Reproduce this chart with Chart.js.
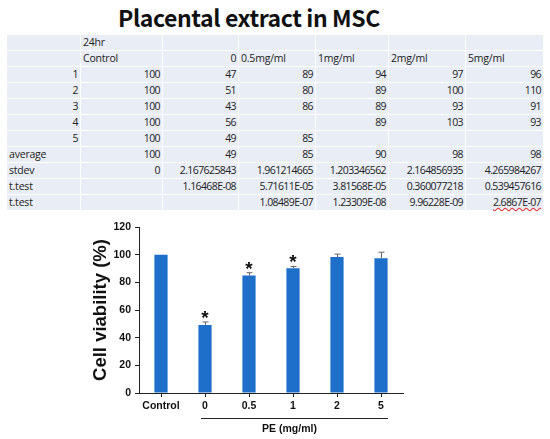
<!DOCTYPE html>
<html>
<head>
<meta charset="utf-8">
<script src="https://cdn.jsdelivr.net/npm/chart.js@4.4.1/dist/chart.umd.min.js"></script>
<style>
  html, body { margin: 0; padding: 0; background: #fff; }
  #page { position: relative; width: 550px; height: 439px; overflow: hidden; }
  #title {
    position: absolute; left: 0; top: 1px; width: 498px; text-align: center;
    font: bold 23px "Noto Sans CJK KR", "Open Sans", sans-serif; line-height: 32px;
    letter-spacing: -0.4px; color: #111;
  }
  #sheet {
    position: absolute; left: 6px; top: 34px; width: 537px;
    border-collapse: collapse; table-layout: fixed;
    font: 10.5px "Open Sans", sans-serif; color: #222; letter-spacing: -0.2px;
  }
  #sheet td {
    background: #e9edf5; border: 1px solid #fff; height: 15px; line-height: 15px;
    padding: 0 2px; white-space: nowrap; overflow: visible;
  }
  #sheet td.r { text-align: right; letter-spacing: -0.6px; }
  .wavy { text-decoration: underline wavy #e03030; }
  #chartBox { position: absolute; left: 0; top: 215px; width: 550px; height: 224px; }
</style>
</head>
<body>
<div id="page">
  <div id="title">Placental extract in MSC</div>
  <table id="sheet">
    <colgroup>
      <col style="width:74px"><col style="width:82px"><col style="width:76px"><col style="width:77px">
      <col style="width:73px"><col style="width:77px"><col style="width:78px">
    </colgroup>
    <tbody id="sheetBody"></tbody>
  </table>
  <div id="chartBox"><canvas id="viability" width="550" height="224"></canvas></div>
</div>
<script>
// spreadsheet values
const groupHeaders = ['Control', '0', '0.5mg/ml', '1mg/ml', '2mg/ml', '5mg/ml'];
const replicateIds = ['1', '2', '3', '4', '5'];
const replicates = [
  [100, 47, 89, 94, 97, 96],
  [100, 51, 80, 89, 100, 110],
  [100, 43, 86, 89, 93, 91],
  [100, 56, null, 89, 103, 93],
  [100, 49, 85, null, null, null]
];
const averages = [100, 49, 85, 90, 98, 98];
const stdevs = ['0', '2.167625843', '1.961214665', '1.203346562', '2.164856935', '4.265984267'];
const ttestA = ['', '1.16468E-08', '5.71611E-05', '3.81568E-05', '0.360077218', '0.539457616'];
const ttestB = ['', '', '1.08489E-07', '1.23309E-08', '9.96228E-09', '2.6867E-07'];

// chart values
const categories = ['Control', '0', '0.5', '1', '2', '5'];
const viability = [100, 49.2, 85, 90.25, 98.25, 97.5];
const errors = [0, 2.17, 1.96, 1.2, 2.16, 4.27];
const stars = ['', '*', '*', '*', '', ''];

function cell(text, right, cls) {
  const td = document.createElement('td');
  if (right) td.className = 'r';
  if (cls) {
    const span = document.createElement('span');
    span.className = cls;
    span.textContent = text;
    td.appendChild(span);
  } else {
    td.textContent = text;
  }
  return td;
}

function addRow(cells) {
  const tr = document.createElement('tr');
  cells.forEach(c => tr.appendChild(c));
  document.getElementById('sheetBody').appendChild(tr);
}

addRow([cell(''), cell('24hr'), cell(''), cell(''), cell(''), cell(''), cell('')]);
addRow([cell('')].concat(groupHeaders.map((h, i) => cell(h, i === 1))));
replicates.forEach((row, r) => {
  addRow([cell(replicateIds[r], true)].concat(row.map(v => cell(v === null ? '' : String(v), true))));
});
addRow([cell('average')].concat(averages.map(v => cell(String(v), true))));
addRow([cell('stdev')].concat(stdevs.map(v => cell(v, true))));
addRow([cell('t.test')].concat(ttestA.map(v => cell(v, true))));
addRow([cell('t.test')].concat(ttestB.map((v, i) => cell(v, true, i === 5 ? 'wavy' : null))));

const tickFont = { family: 'Liberation Sans', weight: 'bold', size: 10.5 };

const extras = {
  id: 'extras',
  afterDatasetsDraw(chart) {
    const { ctx, chartArea } = chart;
    const x = chart.scales.x, y = chart.scales.y;
    ctx.save();
    // error bars (upper half only)
    ctx.strokeStyle = '#666';
    ctx.lineWidth = 1;
    viability.forEach((v, i) => {
      if (!errors[i]) return;
      const cx = Math.round(x.getPixelForValue(i)) + 0.5;
      const top = y.getPixelForValue(v + errors[i]);
      ctx.beginPath();
      ctx.moveTo(cx, y.getPixelForValue(v));
      ctx.lineTo(cx, top);
      ctx.moveTo(cx - 3, top);
      ctx.lineTo(cx + 3, top);
      ctx.stroke();
    });
    // significance marks
    ctx.fillStyle = '#111';
    ctx.font = 'bold 19px "Liberation Sans"';
    ctx.textAlign = 'center';
    ctx.textBaseline = 'alphabetic';
    stars.forEach((s, i) => {
      if (!s) return;
      const top = y.getPixelForValue(viability[i] + errors[i]);
      ctx.fillText(s, x.getPixelForValue(i), top + 2);
    });
    // PE group bracket
    const x0 = x.getPixelForValue(1) - 4;
    const x1 = x.getPixelForValue(5) + 7;
    const ly = chartArea.bottom + 25.5;
    ctx.strokeStyle = '#222';
    ctx.beginPath();
    ctx.moveTo(x0, ly);
    ctx.lineTo(x1, ly);
    ctx.stroke();
    ctx.font = 'bold 10.5px "Liberation Sans"';
    ctx.textBaseline = 'middle';
    ctx.fillText('PE (mg/ml)', (x0 + x1) / 2 - 5, ly + 11);
    ctx.restore();
  }
};

new Chart(document.getElementById('viability'), {
  type: 'bar',
  data: {
    labels: categories,
    datasets: [{
      data: viability,
      backgroundColor: '#1d6fc9',
      barPercentage: 0.3,
      categoryPercentage: 1
    }]
  },
  options: {
    responsive: false,
    animation: false,
    layout: { padding: { left: 0, right: 147, top: 12, bottom: 0 } },
    plugins: { legend: { display: false }, tooltip: { enabled: false } },
    scales: {
      x: {
        grid: { offset: false, drawOnChartArea: false, tickLength: 4, color: '#222' },
        border: { color: '#222' },
        ticks: { color: '#111', font: tickFont, padding: 3, maxRotation: 0, autoSkip: false },
        afterFit(s) { s.height = 46; }
      },
      y: {
        min: 0,
        max: 120,
        grid: { drawOnChartArea: false, tickLength: 4, color: '#222' },
        border: { color: '#222' },
        ticks: { stepSize: 20, color: '#111', font: tickFont, padding: 4 },
        title: {
          display: true,
          text: 'Cell viability (%)',
          color: '#111',
          font: { family: 'Liberation Sans', weight: 'bold', size: 18.5 },
          padding: { top: 90, bottom: 0 }
        },
        afterFit(s) { s.width = 139; }
      }
    }
  },
  plugins: [extras]
});
</script>
</body>
</html>
